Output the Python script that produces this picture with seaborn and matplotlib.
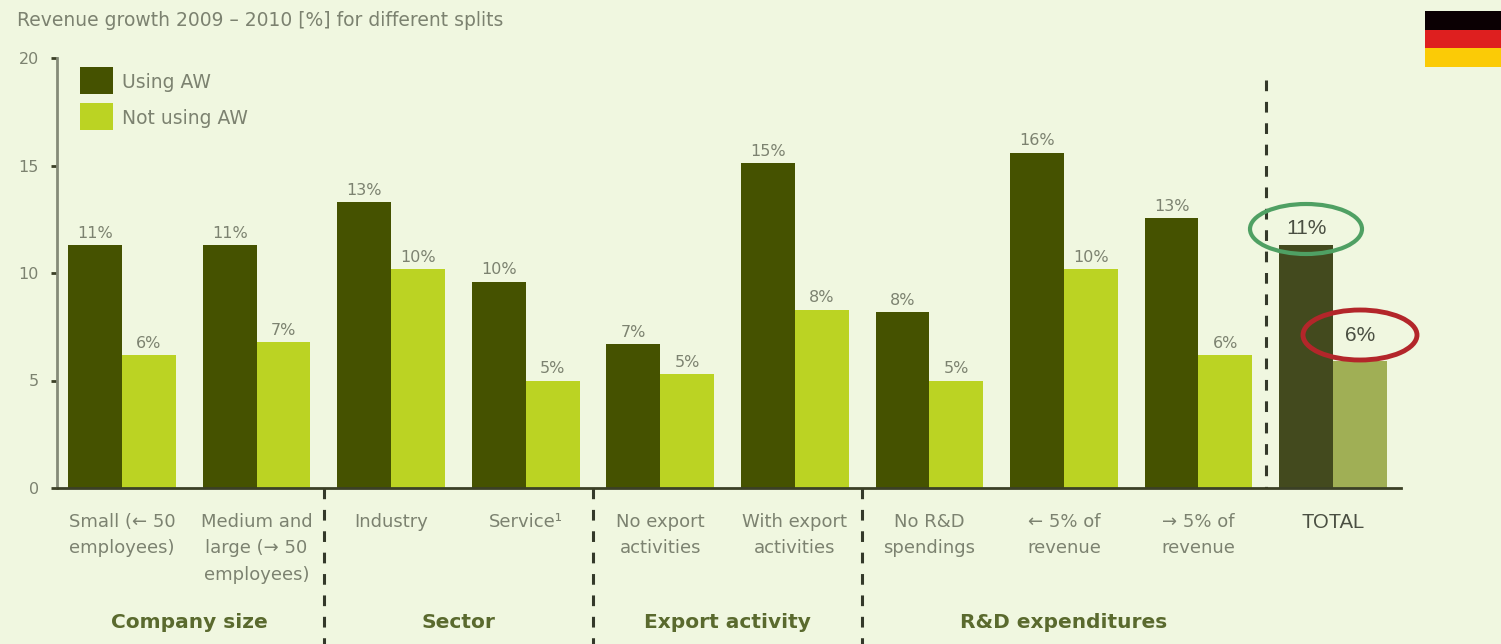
import matplotlib
matplotlib.use("Agg")
import matplotlib.pyplot as plt
import pandas as pd
import seaborn as sns
from matplotlib.patches import Ellipse, Rectangle

# Chart data
categories = [
    "Small (← 50\nemployees)", "Medium and\nlarge (→ 50\nemployees)",
    "Industry", "Service¹",
    "No export\nactivities", "With export\nactivities",
    "No R&D\nspendings", "← 5% of\nrevenue", "→ 5% of\nrevenue", "TOTAL",
]
using_aw = [11.3, 11.3, 13.3, 9.6, 6.7, 15.1, 8.2, 15.6, 12.55, 11.3]
not_using_aw = [6.2, 6.8, 10.2, 5.0, 5.3, 8.3, 5.0, 10.2, 6.2, 5.9]
series_names = ["Using AW", "Not using AW"]
groups = ["Company size", "Sector", "Export activity", "R&D expenditures"]
group_centers = [0.5, 2.5, 4.5, 7.0]
separators = [1.5, 3.5, 5.5]
y_ticks = [0, 5, 10, 15, 20]
flag_colors = ["#0B0003", "#DE1F1F", "#FBCB06"]

BG = "#F0F7E0"
DARK = "#455200"
LIGHT = "#BBD323"
TOTAL_DARK = "#434A1E"
TOTAL_LIGHT = "#A0AF55"
TEXT = "#7C8270"
HEAD = "#5A6A2E"
NOTE = "#4A4F42"
LABEL_SIZE = 13
VALUE_SIZE = 11.5

W, H = 1501, 644
sns.set_theme(style="white")
plt.rcParams["font.family"] = ["DejaVu Sans"]

fig = plt.figure(figsize=(W / 100, H / 100), dpi=100, facecolor=BG)
ax = fig.add_axes([57 / W, 1 - 488 / H, (1401 - 57) / W, (488 - 58) / H], facecolor=BG)

df = pd.DataFrame({
    "category": categories * 2,
    "series": [series_names[0]] * 10 + [series_names[1]] * 10,
    "value": using_aw + not_using_aw,
})
sns.barplot(data=df, x="category", y="value", hue="series", order=categories,
            hue_order=series_names, palette=[DARK, LIGHT], width=0.8, gap=0,
            saturation=1, legend=False, errorbar=None, ax=ax, linewidth=0)

# Muted fill for the TOTAL pair, value labels above every other bar
for container, total_color in zip(ax.containers, [TOTAL_DARK, TOTAL_LIGHT]):
    container[-1].set_facecolor(total_color)
    for i, bar in enumerate(container):
        if i == len(categories) - 1:
            continue
        ax.annotate(f"{bar.get_height():.0f}%",
                    (bar.get_x() + bar.get_width() / 2, bar.get_height()),
                    xytext=(0, 3), textcoords="offset points", ha="center", va="bottom",
                    fontsize=VALUE_SIZE, color=TEXT)

ax.set_xlim(-0.483, 9.505)
ax.set_ylim(0, 20)
ax.set_xlabel("")
ax.set_ylabel("")
ax.set_yticks(y_ticks)
ax.tick_params(axis="y", length=4, width=2, color="#3B4026", labelsize=VALUE_SIZE,
               labelcolor=TEXT, pad=9, left=True)
ax.tick_params(axis="x", length=0, pad=18, labelsize=LABEL_SIZE, labelcolor=TEXT)
ax.set_xticks(range(len(categories)))
ax.set_xticklabels(categories, linespacing=1.6, va="top")
last = ax.get_xticklabels()[-1]
last.set_family("Liberation Sans")
last.set_fontsize(14.5)
last.set_color(NOTE)

sns.despine(ax=ax, top=True, right=True)
ax.spines["left"].set(color="#858B78", linewidth=2)
ax.spines["bottom"].set(color="#3B4026", linewidth=2)

# Dashed separators between groups, running below the baseline
trans = ax.get_xaxis_transform()
dash_style = dict(color="#34392A", linewidth=2.2, linestyle=(0, (3.5, 3.5)), clip_on=False)
for x in separators:
    ax.plot([x, x], [0, -156 / 430], transform=trans, **dash_style)
ax.plot([8.5, 8.5], [408 / 430, 0], transform=trans, **dash_style)

for x, name in zip(group_centers, groups):
    ax.text(x, -135 / 430, name, transform=trans, ha="center", va="center",
            fontsize=14.5, fontweight="bold", color=HEAD)

# Legend swatches
legend_rows = zip(series_names, [DARK, LIGHT], [67, 103])
for name, color, top in legend_rows:
    fig.add_artist(Rectangle((80 / W, 1 - (top + 27) / H), 33 / W, 27 / H,
                             transform=fig.transFigure, facecolor=color, edgecolor="none"))
    fig.text(122 / W, 1 - (top + 16) / H, name, ha="left", va="center",
             fontsize=13.5, color=TEXT)

fig.text(17 / W, 1 - 20 / H, "Revenue growth 2009 – 2010 [%] for different splits",
         ha="left", va="center", fontsize=13.5, color=TEXT)

# Hand-marked TOTAL values
ax.text(9 - 0.2, using_aw[-1] + 0.75, f"{using_aw[-1]:.0f}%", ha="center", va="center",
        fontsize=15, color=NOTE, family="Liberation Sans")
ax.text(9 + 0.2, not_using_aw[-1] + 1.2, f"{not_using_aw[-1]:.0f}%", ha="center", va="center",
        fontsize=15, color=NOTE, family="Liberation Sans")
fig.add_artist(Ellipse((1306 / W, 1 - 229 / H), 112 / W, 50 / H, transform=fig.transFigure,
                       fill=False, edgecolor="#4FA063", linewidth=3))
fig.add_artist(Ellipse((1360 / W, 1 - 335 / H), 114 / W, 50 / H, transform=fig.transFigure,
                       fill=False, edgecolor="#B3262A", linewidth=3.5))

# Flag in the top right corner
for i, color in enumerate(flag_colors):
    fig.add_artist(Rectangle((1425 / W, 1 - (11 + (i + 1) * 18.5) / H), 76 / W, 18.5 / H,
                             transform=fig.transFigure, facecolor=color, edgecolor="none"))

fig.savefig("out.png", dpi=100, facecolor=BG)
